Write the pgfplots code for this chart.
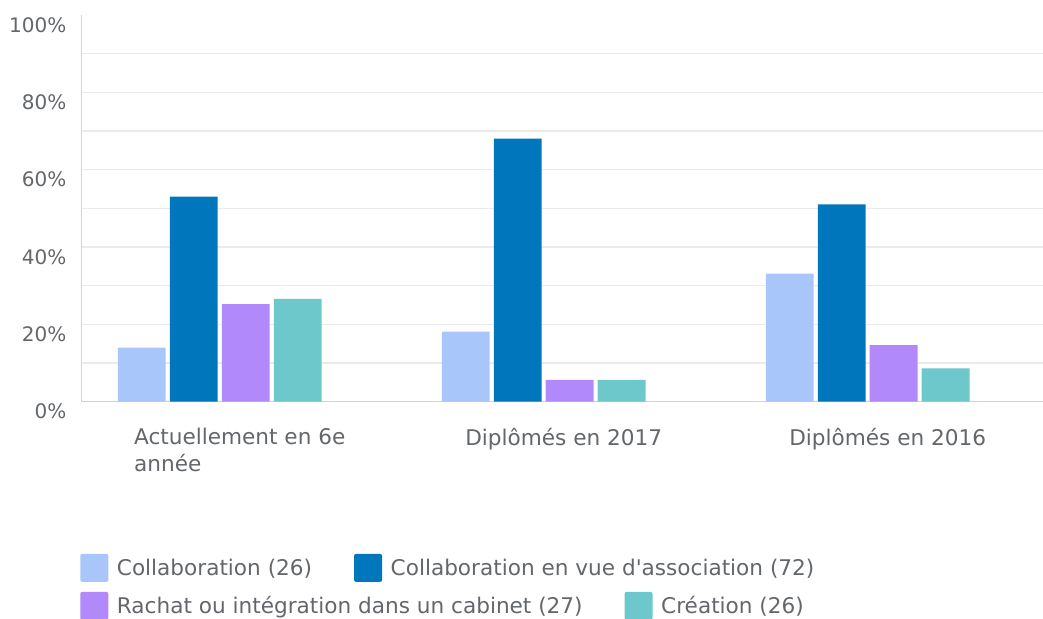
\documentclass[border=0pt]{standalone}
\usepackage{pgfplots}
\pgfplotsset{compat=1.18}
\usepackage{fontspec}
\setmainfont{DejaVu Sans}
\definecolor{cCollab}{HTML}{A8C6FA}
\definecolor{cAssoc}{HTML}{0077BD}
\definecolor{cRachat}{HTML}{B189FB}
\definecolor{cCreation}{HTML}{6CC8CB}
\definecolor{txt}{HTML}{63666A}
\definecolor{gridc}{HTML}{EBEBEB}
\definecolor{axisc}{HTML}{D3D3D3}
\newcommand{\lblfont}{\fontsize{16.2pt}{20pt}\selectfont}
\newcommand{\tickfont}{\fontsize{15pt}{18pt}\selectfont}

\pgfplotsset{
  sq legend/.style={legend image code/.code={\fill[##1, draw=none, rounded corners=1.5pt] (0pt,-10.5pt) rectangle (21pt,10.5pt);}},
  common/.style={
    scale only axis, width=721pt, height=290pt,
    xmin=-0.426, xmax=2.541, ymin=0, ymax=100,
    legend columns=2,
    legend style={draw=none, fill=none, inner sep=0pt, font=\lblfont, text=txt,
      nodes={inner xsep=4.5pt, inner ysep=0pt},
      /tikz/every odd column/.append style={column sep=2pt},
      /tikz/every even column/.append style={column sep=27pt}},
    legend cell align=left,
  },
}

\begin{document}
\begin{tikzpicture}
\useasboundingbox (-61.3pt,-163pt) rectangle (721pt,301.25pt);
\begin{axis}[common, sq legend,
  anchor=south west, at={(0,0)},
  axis x line=bottom, axis y line=left,
  axis line style={axisc, line width=0.8pt, -},
  xtick={0,1,2},
  xticklabels={{Actuellement en 6e\\année}, Diplômés en 2017, Diplômés en 2016},
  xticklabel style={font=\lblfont, text=txt, align=left, anchor=north, yshift=-16.5pt, xshift=15pt},
  ytick={0,20,...,80}, yticklabels={0\%,20\%,40\%,60\%,80\%},
  extra y ticks={100}, extra y tick labels={100\%},
  extra y tick style={grid=none},
  minor ytick={10,30,...,90},
  yticklabel style={font=\tickfont, text=txt, anchor=east, xshift=-8pt, yshift=-7.5pt},
  major tick length=0pt, minor tick length=0pt,
  ymajorgrids, yminorgrids,
  major grid style={gridc, line width=0.8pt},
  minor grid style={gridc, line width=0.8pt},
  /pgf/number format/assume math mode=true,
  legend style={at={(axis description cs:-0.0018,-0.430)}, anchor=west},
]
\addplot[ybar, bar width=0.148, bar shift=-0.2407, fill=cCollab, draw=none]
  coordinates {(0,14.0) (1,18.1) (2,33.1)};
\addlegendentry{Collaboration (26)}
\addplot[ybar, bar width=0.148, bar shift=-0.0802, fill=cAssoc, draw=none]
  coordinates {(0,53.0) (1,68.0) (2,51.0)};
\addlegendentry{Collaboration en vue d\textquotesingle association (72)}
\addplot[ybar, bar width=0.148, bar shift=0.0802, fill=cRachat, draw=none, forget plot]
  coordinates {(0,25.2) (1,5.6) (2,14.6)};
\addplot[ybar, bar width=0.148, bar shift=0.2407, fill=cCreation, draw=none, forget plot]
  coordinates {(0,26.6) (1,5.6) (2,8.6)};
\end{axis}
\begin{axis}[common, sq legend, hide axis,
  anchor=south west, at={(0,0)},
  legend style={at={(axis description cs:-0.0018,-0.528)}, anchor=west},
]
\addlegendimage{fill=cRachat, draw=none}
\addlegendentry{Rachat ou intégration dans un cabinet (27)}
\addlegendimage{fill=cCreation, draw=none}
\addlegendentry{Création (26)}
\end{axis}
\end{tikzpicture}
\end{document}
